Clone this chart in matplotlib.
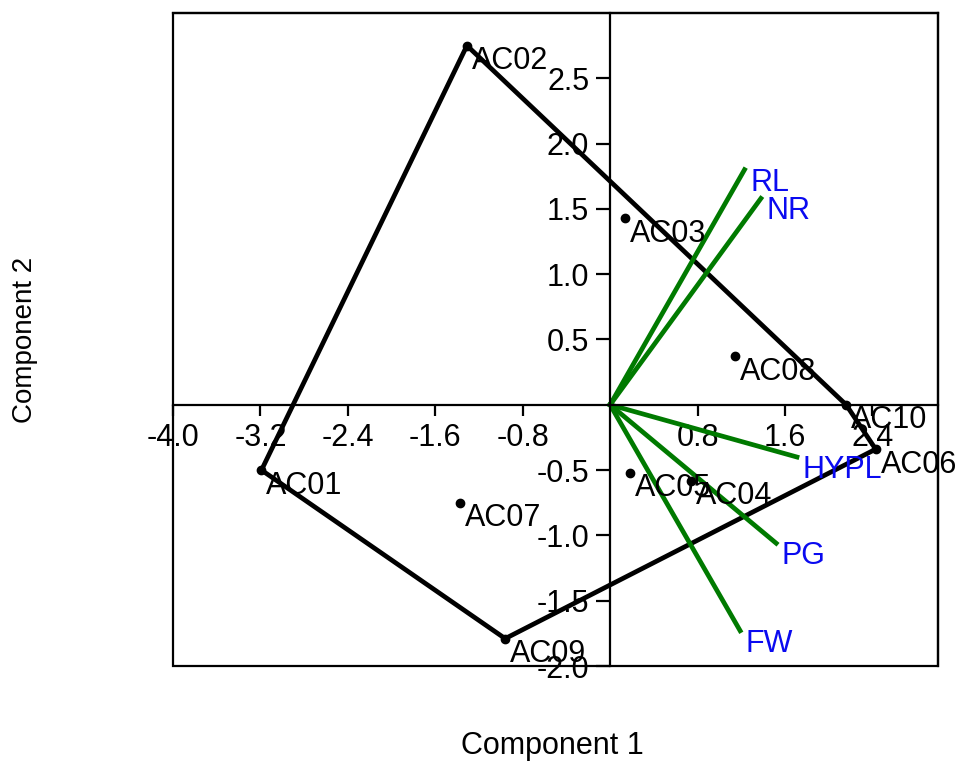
import matplotlib; matplotlib.use("Agg")
import matplotlib.pyplot as plt
from matplotlib.patches import Rectangle

plt.rcParams["font.family"] = ["Liberation Sans", "DejaVu Sans"]

# observation scores (component 1, component 2)
obs = ["AC01", "AC02", "AC03", "AC04", "AC05", "AC06", "AC07", "AC08", "AC09", "AC10"]
pc1 = [-3.19, -1.31, 0.14, 0.74, 0.18, 2.43, -1.37, 1.14, -0.96, 2.16]
pc2 = [-0.50, 2.75, 1.43, -0.58, -0.52, -0.34, -0.75, 0.37, -1.79, 0.00]
hull = ["AC02", "AC10", "AC06", "AC09", "AC01", "AC02"]

# variable loadings
var = ["RL", "NR", "HYPL", "PG", "FW"]
ld1 = [1.23, 1.38, 1.71, 1.52, 1.19]
ld2 = [1.80, 1.58, -0.40, -1.06, -1.73]

xticks = [-4.0, -3.2, -2.4, -1.6, -0.8, 0.8, 1.6, 2.4]
yticks = [-2.0, -1.5, -1.0, -0.5, 0.5, 1.0, 1.5, 2.0, 2.5]

fig = plt.figure(figsize=(9.62, 7.61), dpi=100)
ax = fig.add_axes([0.1798, 0.1248, 0.7952, 0.8582])
ax.set_xlim(-4.0, 3.0); ax.set_ylim(-2.0, 3.0)

# axes crossing at zero, box around plot
ax.spines["left"].set_position(("data", 0))
ax.spines["bottom"].set_position(("data", 0))
for s in ax.spines.values(): s.set_linewidth(1.6)
ax.add_patch(Rectangle((0, 0), 1, 1, transform=ax.transAxes, fill=False,
                       lw=1.6, ec="black", clip_on=False, zorder=1))

ax.set_xticks(xticks, [f"{t:.1f}" for t in xticks])
ax.set_yticks(yticks, [f"{t:.1f}" for t in yticks])
ax.tick_params(axis="x", length=8, width=1.6, labelsize=22, pad=5)
ax.tick_params(axis="y", length=10, width=1.6, labelsize=22, pad=5)

idx = {o: i for i, o in enumerate(obs)}
ax.plot([pc1[idx[h]] for h in hull], [pc2[idx[h]] for h in hull],
        color="black", lw=3.4, zorder=2)
ax.plot(pc1, pc2, "o", color="black", ms=6, zorder=3)
for o, x, y in zip(obs, pc1, pc2):
    ax.annotate(o, (x, y), xytext=(3.5, -0.5), textcoords="offset points",
                ha="left", va="top", fontsize=22, color="black", zorder=3)

for v, x, y in zip(var, ld1, ld2):
    ax.plot([0, x], [0, y], color="#007A00", lw=3.4, zorder=2)
    ax.annotate(v, (x, y), xytext=(4, 1.5), textcoords="offset points",
                ha="left", va="top", fontsize=22, color="#0A0AF0", zorder=3)

fig.text(0.574, 0.0197, "Component 1", ha="center", va="center", fontsize=22)
fig.text(0.026, 0.553, "Component 2", ha="center", va="center", fontsize=20, rotation=90)

fig.savefig("out.png", dpi=100)
